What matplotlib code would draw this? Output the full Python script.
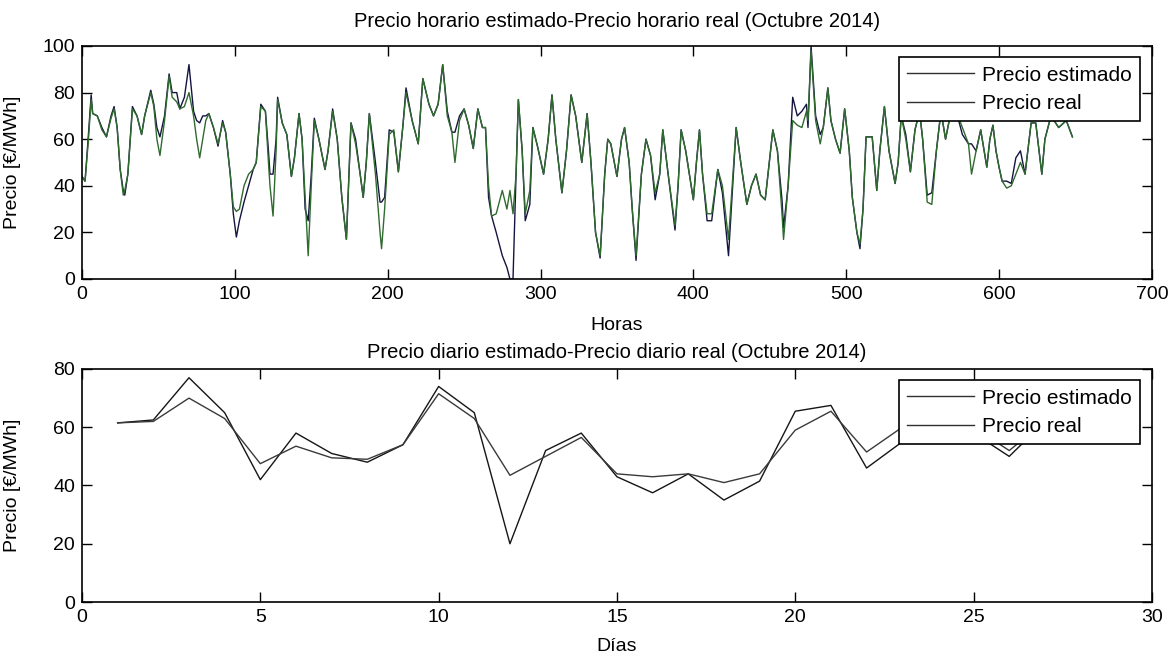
import matplotlib
matplotlib.use("Agg")
import matplotlib.pyplot as plt

plt.rcParams['font.family'] = ['Liberation Sans', 'DejaVu Sans']

# Precio horario (horas 0-648)
horas = [0, 2, 4, 6, 7, 10, 13, 16, 19, 21, 23, 25, 27, 28, 30, 33, 36, 39, 41, 45,
         47, 49, 51, 54, 57, 59, 62, 64, 67, 70, 73, 75, 77, 79, 81, 83, 86, 89, 92, 94,
         97, 99, 101, 103, 106, 109, 112, 114, 117, 120, 122, 123, 125, 127, 128, 131, 134, 137, 139, 142,
         144, 146, 148, 150, 152, 155, 159, 161, 164, 167, 170, 173, 176, 179, 182, 184, 186, 188, 192, 195,
         196, 198, 201, 204, 207, 210, 212, 216, 220, 223, 227, 230, 233, 236, 239, 242, 244, 247, 250, 253,
         256, 259, 262, 264, 266, 268, 271, 275, 278, 280, 282, 284, 285.5, 288, 290, 293, 295, 298, 302, 305,
         307.5, 310, 314, 317, 320, 323, 327, 330.5, 333, 336, 339, 342, 344, 346, 350, 353, 355, 358, 360, 362.5,
         366, 369, 372, 375, 378, 380, 383.5, 388, 390, 392, 395, 400, 402, 404, 406, 409, 412, 416, 419, 423,
         428, 431, 435, 438, 441, 444, 447, 452, 455, 458, 459, 462, 465, 468, 471, 474, 475, 477, 480, 483,
         485, 488, 490, 493, 496, 499, 502, 504, 507, 509, 511, 513, 517, 520, 522, 525, 528, 532, 534, 536,
         539, 542, 545, 548, 550, 553, 556, 559, 562, 565, 568, 572, 576, 580, 582, 585, 588, 592, 594, 596,
         598, 600, 602, 605, 608, 611, 614, 617, 621, 624, 628, 630, 634, 639, 644, 648]

precio_estimado_h = [44, 42, 60, 79, 71, 70, 65, 61, 70, 74, 65, 47, 38, 36, 45, 74, 70, 62, 70, 81,
                     75, 65, 61, 70, 88, 80, 80, 73, 78, 92, 72, 68, 67, 70, 70, 71, 65, 57, 68, 63,
                     45, 28, 18, 25, 33, 40, 47, 50, 75, 72, 55, 45, 45, 60, 78, 67, 62, 44, 52, 71,
                     60, 30, 25, 45, 69, 60, 47, 55, 73, 60, 35, 17, 67, 60, 45, 35, 50, 71, 50, 33,
                     33, 35, 64, 63, 46, 66, 82, 68, 58, 86, 75, 70, 75, 92, 72, 63, 63, 70, 73, 66,
                     56, 73, 65, 65, 35, 27, 20, 10, 5, 0, 0, 45, 77, 55, 25, 32, 65, 57, 45, 60,
                     79, 60, 37, 55, 79, 70, 50, 71, 50, 20, 9, 45, 60, 58, 44, 60, 65, 50, 30, 8,
                     45, 60, 53, 34, 45, 64, 45, 21, 40, 64, 55, 34, 50, 64, 45, 25, 25, 47, 37, 10,
                     65, 50, 32, 40, 45, 36, 34, 64, 55, 34, 22, 40, 78, 70, 72, 75, 65, 100, 70, 62,
                     65, 82, 68, 60, 54, 73, 55, 35, 20, 13, 30, 61, 61, 38, 55, 74, 55, 41, 50, 70,
                     62, 46, 64, 72, 60, 36, 37, 55, 72, 60, 70, 72, 62, 58, 58, 55, 64, 48, 60, 66,
                     55, 48, 42, 42, 41, 52, 55, 45, 67, 67, 45, 60, 70, 65, 68, 61]

precio_real_h = [44, 42, 58, 77, 71, 70, 64, 61, 69, 73, 65, 47, 36, 38, 45, 73, 70, 62, 70, 80,
                 74, 60, 53, 68, 87, 78, 76, 73, 74, 80, 70, 60, 52, 60, 68, 71, 65, 58, 67, 63,
                 45, 31, 29, 30, 40, 45, 47, 50, 74, 72, 50, 40, 27, 55, 77, 67, 62, 44, 52, 71,
                 60, 35, 10, 40, 68, 60, 47, 55, 72, 60, 35, 17, 67, 58, 45, 35, 50, 71, 45, 20,
                 13, 30, 62, 64, 46, 66, 80, 68, 58, 86, 75, 70, 75, 92, 70, 63, 50, 68, 73, 66,
                 56, 73, 65, 65, 40, 27, 28, 38, 30, 38, 28, 45, 77, 55, 28, 38, 65, 57, 45, 60,
                 79, 60, 37, 55, 79, 70, 50, 71, 50, 20, 10, 45, 60, 58, 44, 60, 65, 50, 30, 10,
                 45, 60, 53, 37, 45, 64, 45, 23, 40, 64, 55, 34, 50, 64, 45, 28, 28, 47, 40, 17,
                 65, 50, 32, 40, 45, 36, 34, 64, 55, 28, 17, 40, 68, 66, 65, 72, 68, 98, 68, 58,
                 65, 82, 68, 60, 54, 73, 55, 35, 20, 15, 30, 61, 61, 38, 55, 74, 55, 41, 50, 70,
                 60, 46, 64, 72, 60, 33, 32, 55, 72, 60, 70, 72, 65, 58, 45, 55, 64, 48, 60, 66,
                 55, 48, 42, 39, 40, 45, 50, 45, 67, 67, 45, 60, 70, 65, 68, 61]

# Precio diario (dias 1-27)
dias = list(range(1, 28))
precio_estimado_d = [61.5, 62.5, 77, 65, 42, 58, 51, 48, 54, 74, 65, 20, 52, 58, 43, 37.5, 44, 35, 41.5,
                     65.5, 67.5, 46, 55, 60, 58, 50, 62]
precio_real_d = [61.5, 62, 70, 63, 47.5, 53.5, 49.5, 49, 54, 71.5, 63, 43.5, 50, 56.5, 44, 43, 44, 41, 44,
                 59, 65.5, 51.5, 60, 63, 60, 52, 62]

color_est = '#141440'
color_real = '#2f6a2f'

fig = plt.figure(figsize=(11.73, 6.54), dpi=100)
ax1 = fig.add_axes([0.0699, 0.5734, 0.9121, 0.3563])
ax2 = fig.add_axes([0.0699, 0.0795, 0.9121, 0.3563])

ax1.plot(horas, precio_estimado_h, color=color_est, lw=1.0, label='Precio estimado')
ax1.plot(horas, precio_real_h, color=color_real, lw=1.0, label='Precio real')
ax1.set_xlim(0, 700)
ax1.set_ylim(0, 100)
ax1.set_xticks(range(0, 701, 100))
ax1.set_yticks(range(0, 101, 20))
ax1.set_title('Precio horario estimado-Precio horario real (Octubre 2014)', fontsize=14.5, pad=14)
ax1.set_xlabel('Horas', fontsize=14, labelpad=10)

ax2.plot(dias, precio_estimado_d, color='#151515', lw=1.0, label='Precio estimado')
ax2.plot(dias, precio_real_d, color='#3a3a3a', lw=1.0, label='Precio real')
ax2.set_xlim(0, 30)
ax2.set_ylim(0, 80)
ax2.set_xticks(range(0, 31, 5))
ax2.set_yticks(range(0, 81, 20))
ax2.set_title('Precio diario estimado-Precio diario real (Octubre 2014)', fontsize=14.5, pad=8)
ax2.set_xlabel('Días', fontsize=14, labelpad=9)

for ax in (ax1, ax2):
    ax.set_ylabel('Precio [€/MWh]', fontsize=14)
    ax.yaxis.set_label_coords(-0.057, 0.5)
    for s in ax.spines.values():
        s.set_linewidth(1.2)
        s.set_color('black')
    ax.tick_params(direction='in', top=True, right=True, length=7, width=1, labelsize=14, pad=5)
    leg = ax.legend(loc='upper right', fontsize=15, frameon=True, fancybox=False,
                    edgecolor='black', framealpha=1, handlelength=3.2, borderaxespad=0.55,
                    borderpad=0.4, labelspacing=0.45, handletextpad=0.4)
    leg.get_frame().set_linewidth(1.2)
    for line in leg.get_lines():
        line.set_color('#303030')

fig.savefig('out.png', dpi=100)
